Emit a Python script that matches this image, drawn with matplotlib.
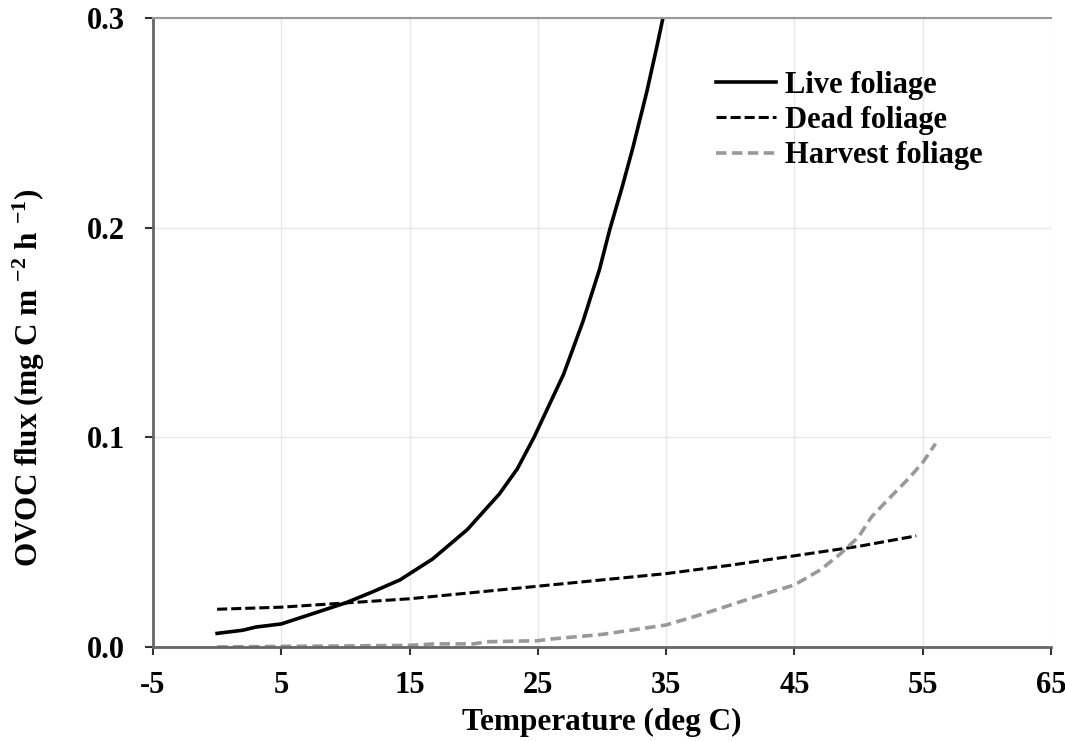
import matplotlib.pyplot as plt

plt.rcParams['font.family'] = ['Liberation Serif', 'DejaVu Serif']
plt.rcParams['font.weight'] = 'bold'
plt.rcParams['axes.unicode_minus'] = False
plt.rcParams['mathtext.fontset'] = 'custom'
plt.rcParams['mathtext.rm'] = 'Liberation Serif:bold'
plt.rcParams['mathtext.it'] = 'Liberation Serif:bold'
plt.rcParams['mathtext.bf'] = 'Liberation Serif:bold'

live_x = [0, 2, 3, 5, 6, 7, 8, 10, 12, 14.25, 16.8, 19.5, 22, 23.4, 24.7, 27, 28.5, 29.8, 30.6, 31.6,
          32.4, 33.5, 34.3, 34.75]
live_y = [0.0065, 0.008, 0.0095, 0.011, 0.013, 0.015, 0.017, 0.021, 0.026, 0.032, 0.042, 0.056, 0.073,
          0.085, 0.100, 0.130, 0.155, 0.180, 0.199, 0.220, 0.238, 0.265, 0.287, 0.300]

dead_x = [0, 5, 10, 15, 20, 25, 30, 35, 40, 45, 50, 54.5]
dead_y = [0.018, 0.019, 0.021, 0.023, 0.026, 0.029, 0.032, 0.035, 0.039, 0.0435, 0.048, 0.053]

harv_x = [0, 5, 10, 15, 17, 20, 21, 25, 26, 30, 35, 38, 42, 45, 47, 48.5, 50, 51, 52.5, 54, 55, 56]
harv_y = [0.0, 0.0003, 0.0005, 0.0008, 0.0015, 0.0015, 0.0025, 0.003, 0.0038, 0.006, 0.0105, 0.016,
          0.024, 0.0296, 0.0367, 0.044, 0.0525, 0.062, 0.0716, 0.081, 0.088, 0.097]

fig = plt.figure(figsize=(10.65, 7.42), dpi=100)
ax = fig.add_axes([153 / 1065, (742 - 647) / 742, (1051 - 153) / 1065, (647 - 18) / 742])

ax.plot(live_x, live_y, color='black', lw=2.6, label='Live foliage')
ax.plot(dead_x, dead_y, color='black', lw=2.2, ls=(0, (3.3, 1.3)), label='Dead foliage')
ax.plot(harv_x, harv_y, color='#999999', lw=2.6, ls=(0, (2.9, 1.5)), label='Harvest foliage')

ax.set_xlim(-5, 65)
ax.set_ylim(0, 0.3)
ax.set_xticks(range(-5, 66, 10))
ax.set_yticks([0.0, 0.1, 0.2, 0.3])
ax.set_yticklabels(['0.0', '0.1', '0.2', '0.3'])
ax.grid(True, color='#e8e8e8', lw=1)
ax.set_axisbelow(True)

for s in ['left', 'bottom']:
    ax.spines[s].set_color('#666666')
    ax.spines[s].set_linewidth(2)
ax.spines['top'].set_color('#999999')
ax.spines['top'].set_linewidth(1.5)
ax.spines['right'].set_visible(False)
ax.tick_params(axis='both', labelsize=22, color='#333333', width=1.5, length=6)
ax.tick_params(axis='x', pad=11)
ax.tick_params(axis='y', pad=14)

ax.set_xlabel('Temperature (deg C)', fontsize=22.5, fontweight='bold', labelpad=6)
fig.text(29 / 1065, 1 - 378 / 742, 'OVOC flux (mg C m $^{-2}$ h $^{-1}$)', fontsize=22.5,
         fontweight='bold', rotation=90, ha='center', va='center')

ax.legend(loc='upper left', bbox_to_anchor=((716 - 153) / 898, 1 - (71 - 18) / 629), frameon=False,
          fontsize=22, handlelength=1.95, handletextpad=0.3, labelspacing=0.2, borderpad=0,
          borderaxespad=0)

fig.savefig('out.png', dpi=100)
